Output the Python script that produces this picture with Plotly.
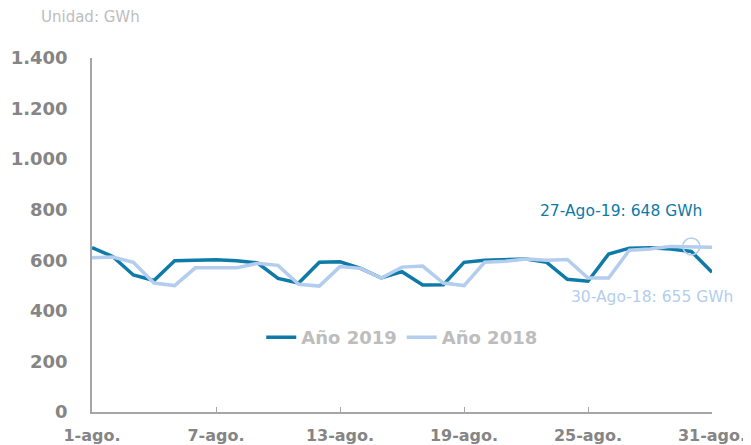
import plotly.graph_objects as go

days = list(range(1, 32))
y2019 = [650, 615, 542, 520, 598, 600, 602, 598, 590, 528, 510, 592, 594, 568, 530, 555, 502, 503, 592, 600, 603, 605, 592, 525, 517, 625, 648, 650, 645, 635, 553]
y2018 = [610, 613, 592, 510, 500, 570, 570, 570, 588, 580, 505, 498, 575, 568, 530, 573, 577, 510, 500, 592, 596, 605, 600, 603, 530, 530, 640, 645, 655, 655, 652]
tick_days = [1, 7, 13, 19, 25, 31]
tick_labels = ["1-ago.", "7-ago.", "13-ago.", "19-ago.", "25-ago.", "31-ago."]
y_ticks = [0, 200, 400, 600, 800, 1000, 1200, 1400]
y_labels = ["0", "200", "400", "600", "800", "1.000", "1.200", "1.400"]
hl_day = 30
hl_val = 655

c19 = "#0e7aa8"
c18 = "#b3cdee"
gray = "#858585"
font = "DejaVu Sans"

fig = go.Figure()
fig.add_trace(go.Scatter(x=days, y=y2019, mode="lines", name="Año 2019",
                         line=dict(color=c19, width=3.5)))
fig.add_trace(go.Scatter(x=days, y=y2018, mode="lines", name="Año 2018",
                         line=dict(color=c18, width=3.5)))
fig.add_trace(go.Scatter(x=[hl_day], y=[hl_val], mode="markers", showlegend=False,
                         marker=dict(size=17, color="rgba(0,0,0,0)",
                                     line=dict(color=c18, width=1.5))))

fig.update_layout(
    width=743, height=437,
    margin=dict(l=84, r=39, t=50, b=33),
    plot_bgcolor="white", paper_bgcolor="white",
    showlegend=True,
    legend=dict(orientation="h", x=0.273, y=0.21, xanchor="left", yanchor="middle",
                font=dict(family=font, size=18, color="#bdbdbd", weight="bold"),
                bgcolor="rgba(0,0,0,0)", itemwidth=30, tracegroupgap=0),
    xaxis=dict(range=[1, 31], tickvals=tick_days, ticktext=tick_labels,
               automargin=False,
               showgrid=False, zeroline=False, showline=True, linecolor="#a6a6a6",
               linewidth=1.5, ticks="inside", ticklen=5, tickcolor="#a6a6a6",
               ticklabelstandoff=8,
               tickfont=dict(family=font, size=16, color=gray, weight="bold")),
    yaxis=dict(range=[0, 1400], tickvals=y_ticks, ticktext=y_labels,
               automargin=False,
               showgrid=False, zeroline=False, showline=True, linecolor="#a6a6a6",
               linewidth=1.5, ticks="", ticklabelstandoff=19,
               tickfont=dict(family=font, size=18, color=gray, weight="bold")),
    annotations=[
        dict(text="Unidad: GWh", xref="paper", yref="paper", x=0, y=1.0,
             xshift=-53, yshift=41, xanchor="left", yanchor="middle", showarrow=False,
             font=dict(family=font, size=15, color="#bdbdbd")),
        dict(text="27-Ago-19: 648 GWh", xref="paper", yref="y", x=1.0, y=800,
             xanchor="right", yanchor="middle", xshift=-8, yshift=-1, showarrow=False,
             font=dict(family=font, size=15.5, color=c19)),
        dict(text="30-Ago-18: 655 GWh", xref="paper", yref="y", x=1.0, y=455,
             xanchor="right", yanchor="middle", xshift=23, showarrow=False,
             font=dict(family=font, size=15.5, color=c18)),
    ],
)

fig.write_html("out.html")
